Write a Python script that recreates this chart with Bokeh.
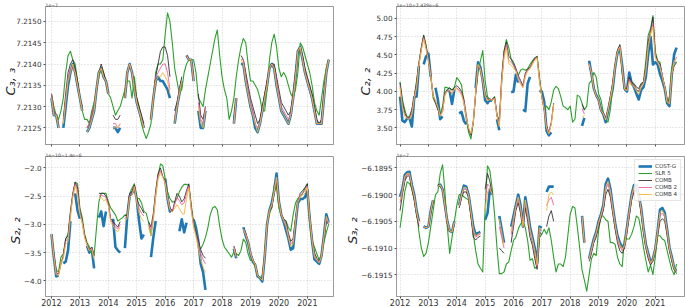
import numpy as np
from bokeh.plotting import figure
from bokeh.layouts import gridplot
from bokeh.models import (FixedTicker, Legend, LegendItem, Range1d,
                          CustomJSTickFormatter, CustomLabelingPolicy)
from bokeh.embed import file_html
from bokeh.resources import INLINE

N = None
months = list(range(118))
dates = [2012 + m / 12.0 for m in months]
year_ticks = list(range(2012, 2022))
series_names = ["COST-G", "SLR 5", "COMB", "COMB 2", "COMB 4"]

# ---------------- Panel 1: C3,3 (x1e-7) ----------------
c33_slr = [7.2133, 7.2130, 7.2128, 7.2127, 7.2129, 7.2132, 7.2138, 7.2142, 7.2143, 7.2141,
           7.2140, 7.2136, 7.2132, 7.2129, 7.2127, 7.2127, 7.2126, 7.2129, 7.2131, 7.2134,
           7.2137, 7.2139, 7.2138, 7.2136, 7.2133, 7.2132, 7.2130, 7.2128, 7.2129, 7.2130,
           7.2132, 7.2134, 7.2136, 7.2136, 7.2132, 7.2137, 7.2132, 7.2130, 7.2126, 7.2124,
           7.21225, 7.2124, 7.2126, 7.2132, 7.2138, 7.2140, 7.2140, 7.2141, 7.2147, 7.2152,
           7.2150, 7.2145, 7.2139, 7.2136, 7.2133, 7.2134, 7.2138, 7.2140, 7.2141, 7.2141,
           7.2141, 7.2138, 7.2132, 7.2131, 7.2130, 7.2134, 7.2137, 7.2140, 7.2143, 7.2146,
           7.2148, 7.2142, 7.2137, 7.2134, 7.2132, 7.2127, 7.2129, 7.2132, 7.2137, 7.2141,
           7.2144, 7.2146, 7.2145, 7.2140, 7.2136, 7.2136, 7.2135, 7.2134, 7.2132, 7.2129,
           7.2129, 7.2134, 7.2141, 7.2145, 7.2147, 7.2144, 7.2139, 7.2137, 7.2138, 7.2137,
           7.2135, 7.2133, 7.2132, 7.2134, 7.2138, 7.2145, 7.2144, 7.2142, 7.2140, 7.2138,
           7.2135, 7.2131, 7.2129, 7.2128, 7.2132, 7.2136, 7.2139, 7.2141]
c33_costg = [7.2132, 7.2128, 7.2128, 7.2125, N, 7.2125, 7.2130, 7.2135, 7.2138, 7.2140,
             7.2138, 7.2135, 7.2132, 7.2129, N, 7.2124, 7.2125, 7.2127, 7.2129, 7.2134,
             7.2138, 7.2139, 7.2137, 7.2136, 7.2133, N, 7.2125, 7.2125, 7.2124, 7.2125,
             N, 7.2132, 7.2138, 7.2140, 7.2138, 7.2134, 7.2131, 7.2129, 7.2127, 7.2125,
             N, N, 7.2127, 7.2132, 7.2136, 7.2137, 7.2136, 7.2136, 7.2135, 7.2134,
             7.2132, N, 7.2126, 7.2130, 7.2133, 7.2136, N, 7.2142, 7.2141, 7.2141,
             7.2136, N, 7.2129, 7.2125, 7.2125, 7.2129, N, N, N, N,
             N, N, N, N, N, N, N, 7.2126, 7.2132, N,
             7.2140, 7.2140, 7.2136, 7.2133, 7.2130, 7.2128, 7.2125, 7.2124, 7.2126, 7.2129,
             7.2132, 7.2135, 7.2139, 7.2140, 7.2139, 7.2135, 7.2132, 7.2129, 7.2128, 7.2127,
             7.2126, 7.2128, 7.2132, 7.2137, 7.2143, 7.2144, 7.2141, 7.2138, 7.2136, 7.2134,
             7.2132, 7.2129, 7.2126, 7.2126, 7.2126, 7.2132, 7.2138, 7.2141]
c33_comb = [7.2133, 7.2129, 7.2128, 7.2126, N, 7.2127, 7.2133, 7.2138, 7.2140, 7.2141,
            7.2139, 7.2136, 7.2132, 7.2130, N, 7.2125, 7.2126, 7.2128, 7.2130, 7.2134,
            7.2138, 7.2140, 7.2138, 7.2136, 7.2133, N, 7.2128, 7.2127, 7.2127, 7.2128,
            N, 7.2132, 7.2138, 7.2140, 7.2138, 7.2135, 7.2132, 7.2130, 7.2128, 7.2126,
            N, N, 7.2127, 7.2132, 7.2137, 7.2140, 7.2143, 7.2144, 7.2144, 7.2142,
            7.2137, N, 7.2129, 7.2131, 7.2134, 7.2137, N, 7.2142, 7.2141, 7.2141,
            7.2137, N, 7.2133, 7.2128, 7.2127, 7.2130, N, N, N, N,
            N, N, N, N, N, N, N, 7.2127, 7.2132, N,
            7.2142, 7.2141, 7.2138, 7.2135, 7.2132, 7.2130, 7.2128, 7.2126, 7.2127, 7.2130,
            7.2133, 7.2136, 7.2139, 7.2140, 7.2140, 7.2137, 7.2134, 7.2131, 7.2130, 7.2129,
            7.2128, 7.2129, 7.2133, 7.2138, 7.2143, 7.2144, 7.2142, 7.2139, 7.2137, 7.2135,
            7.2133, 7.2130, 7.2127, 7.2126, 7.2127, 7.2133, 7.2138, 7.2141]
c33_comb2 = [7.2133, 7.2129, 7.2128, 7.2126, N, 7.2126, 7.2132, 7.2137, 7.2139, 7.2139,
             7.2138, 7.2135, 7.2132, 7.2129, N, 7.2125, 7.2126, 7.2128, 7.2130, 7.2134,
             7.2138, 7.2139, 7.2137, 7.2136, 7.2133, N, 7.2126, 7.2126, 7.2125, 7.2126,
             N, 7.2132, 7.2138, 7.2140, 7.2138, 7.2135, 7.2131, 7.2129, 7.2127, 7.2125,
             N, N, 7.2127, 7.2132, 7.2137, 7.2138, 7.2139, 7.2140, 7.2140, 7.2138,
             7.2134, N, 7.2127, 7.2130, 7.2134, 7.2136, N, 7.2142, 7.2141, 7.2141,
             7.2136, N, 7.2131, 7.2127, 7.2126, 7.2130, N, N, N, N,
             N, N, N, N, N, N, N, 7.2126, 7.2132, N,
             7.2141, 7.2141, 7.2137, 7.2134, 7.2131, 7.2129, 7.2126, 7.2125, 7.2126, 7.2129,
             7.2132, 7.2135, 7.2139, 7.2140, 7.2139, 7.2136, 7.2133, 7.2130, 7.2129, 7.2128,
             7.2127, 7.2128, 7.2132, 7.2137, 7.2143, 7.2144, 7.2141, 7.2138, 7.2136, 7.2134,
             7.2132, 7.2129, 7.2126, 7.2126, 7.2126, 7.2132, 7.2138, 7.2141]
c33_comb4 = [7.2132, 7.2128, 7.2128, 7.2125, N, 7.2126, 7.2131, 7.2136, 7.2138, 7.2140,
             7.2138, 7.2135, 7.2132, 7.2129, N, 7.2124, 7.2125, 7.2127, 7.2129, 7.2134,
             7.2138, 7.2139, 7.2137, 7.2136, 7.2133, N, 7.2125, 7.2125, 7.2125, 7.2126,
             N, 7.2132, 7.2138, 7.2140, 7.2138, 7.2134, 7.2131, 7.2129, 7.2127, 7.2125,
             N, N, 7.2127, 7.2132, 7.2136, 7.2137, 7.2137, 7.2138, 7.2137, 7.2136,
             7.2133, N, 7.2126, 7.2130, 7.2133, 7.2136, N, 7.2142, 7.2141, 7.2141,
             7.2136, N, 7.2130, 7.2126, 7.2125, 7.2129, N, N, N, N,
             N, N, N, N, N, N, N, 7.2126, 7.2132, N,
             7.2141, 7.2140, 7.2136, 7.2133, 7.2130, 7.2128, 7.2126, 7.2124, 7.2126, 7.2129,
             7.2132, 7.2135, 7.2139, 7.2140, 7.2139, 7.2135, 7.2132, 7.2129, 7.2128, 7.2127,
             7.2126, 7.2128, 7.2132, 7.2137, 7.2143, 7.2144, 7.2141, 7.2138, 7.2136, 7.2134,
             7.2132, 7.2129, 7.2126, 7.2126, 7.2126, 7.2132, 7.2138, 7.2141]

# ---------------- Panel 2: C2,2 (x1e-10 + 2.439e-6) ----------------
c22_slr = [4.13, 3.89, 3.75, 3.64, 3.66, 3.75, 3.93, 4.15, 4.40, 4.60,
           4.77, 4.64, 4.44, 4.20, 3.91, 3.84, 3.75, 3.69, 3.80, 4.06,
           4.05, 4.04, 4.02, 4.06, 4.19, 4.15, 4.09, 3.86, 3.62, 3.44,
           3.35, 3.58, 3.97, 4.26, 4.42, 4.56, 4.15, 3.93, 3.89, 3.89,
           3.93, 3.66, 3.62, 4.11, 4.55, 4.71, 4.60, 4.44, 4.37, 4.29,
           4.22, 4.29, 4.31, 4.29, 4.31, 4.37, 4.42, 4.46, 4.48, 4.20,
           3.93, 3.75, 3.80, 3.75, 3.86, 4.02, 4.07, 4.04, 3.93, 3.80,
           3.78, 3.75, 3.80, 3.58, 3.62, 3.95, 3.93, 3.84, 3.75, 3.80,
           4.11, 4.15, 4.26, 4.20, 3.97, 3.89, 3.71, 3.62, 3.58, 3.75,
           4.06, 4.37, 4.51, 4.64, 4.24, 4.04, 4.04, 4.17, 4.11, 4.09,
           4.02, 4.00, 4.09, 4.13, 4.42, 4.77, 4.86, 5.04, 4.55, 4.42,
           4.40, 4.20, 4.06, 3.84, 3.93, 4.33, 4.40, 4.40]
c22_costg = [3.93, 3.60, 3.58, 3.63, 3.63, 3.52, 3.92, 3.93, 4.35, N,
             4.37, 4.48, 4.52, 4.20, N, 4.05, 3.89, 3.62, 3.66, N,
             4.02, 4.00, 3.83, 4.03, N, 3.70, 3.72, 3.60, 3.55, N,
             N, N, 4.05, 4.40, 4.33, 4.15, 3.88, 3.84, 3.89, 3.87,
             N, 3.62, 3.47, N, N, N, N, 3.99, 4.00, 4.23,
             4.12, N, 3.75, 3.73, 4.11, 4.20, N, N, N, 4.01,
             4.00, 3.86, 3.46, 3.40, 3.44, N, N, N, N, N,
             N, N, N, N, N, N, N, 3.53, 3.64, N,
             4.42, 4.24, 4.04, 3.95, 3.89, 3.75, 3.69, 3.58, 3.73, 3.89,
             4.04, 4.33, 4.53, 4.60, 4.35, 4.04, 4.00, 4.26, 4.11, 4.06,
             3.97, 3.89, 4.02, 4.06, 4.20, 4.51, 4.75, 4.37, 4.40, 4.37,
             4.24, 4.15, 4.04, 3.84, 3.80, 4.24, 4.51, 4.60]
c22_comb = [4.12, 3.85, 3.70, 3.65, 3.63, 3.75, 3.92, 4.12, 4.38, 4.60,
            4.77, 4.62, 4.45, 4.22, 3.95, 3.85, 3.76, 3.68, 3.74, 3.98,
            4.03, 4.05, 4.02, 4.05, 4.08, 4.05, 4.00, 3.90, 3.68, 3.48,
            3.40, 3.58, 3.97, 4.35, 4.30, 4.15, 3.97, 3.90, 3.89, 3.89,
            3.92, 3.70, 3.55, 4.20, 4.55, 4.68, 4.48, 4.45, 4.40, 4.32,
            4.22, 4.15, 4.08, 4.25, 4.31, 4.33, 4.40, 4.45, 4.48, 4.17,
            3.93, 3.75, 3.53, 3.44, 3.58, 3.84, N, N, N, N,
            N, N, N, N, N, N, N, 3.82, 3.75, N,
            4.33, 4.26, 4.04, 3.93, 3.89, 3.73, 3.71, 3.64, 3.75, 3.93,
            4.13, 4.35, 4.57, 4.64, 4.29, 4.02, 4.04, 4.20, 4.13, 4.11,
            4.06, 4.04, 4.11, 4.13, 4.33, 4.68, 4.82, 5.02, 4.51, 4.42,
            4.37, 4.22, 4.06, 3.89, 3.86, 4.24, 4.35, 4.40]
c22_comb2 = [4.08, 3.80, 3.68, 3.64, 3.63, 3.72, 3.92, 4.08, 4.37, 4.58,
             4.74, 4.60, 4.44, 4.22, 3.95, 3.87, 3.78, 3.68, 3.73, 3.96,
             4.01, 4.00, 3.98, 4.02, 4.05, 4.02, 3.97, 3.86, 3.66, 3.50,
             3.42, 3.58, 3.98, 4.36, 4.30, 4.14, 3.95, 3.88, 3.89, 3.89,
             3.91, 3.68, 3.53, 4.15, 4.50, 4.64, 4.43, 4.40, 4.36, 4.30,
             4.20, 4.12, 4.06, 4.22, 4.29, 4.32, 4.38, 4.44, 4.47, 4.15,
             3.93, 3.75, 3.51, 3.43, 3.56, 3.83, N, N, N, N,
             N, N, N, N, N, N, N, 3.77, 3.69, N,
             4.36, 4.25, 4.04, 3.94, 3.89, 3.74, 3.70, 3.62, 3.74, 3.91,
             4.10, 4.34, 4.55, 4.62, 4.31, 4.03, 4.02, 4.17, 4.10, 4.08,
             4.03, 4.00, 4.08, 4.11, 4.30, 4.64, 4.80, 4.93, 4.48, 4.41,
             4.35, 4.21, 4.07, 3.87, 3.84, 4.24, 4.40, 4.47]
c22_comb4 = [4.05, 3.78, 3.66, 3.63, 3.62, 3.68, 3.90, 4.05, 4.36, 4.56,
             4.72, 4.58, 4.42, 4.21, 3.94, 3.88, 3.79, 3.66, 3.72, 3.95,
             4.00, 4.02, 3.97, 4.03, 4.04, 4.00, 3.95, 3.84, 3.64, 3.50,
             3.43, 3.58, 3.99, 4.37, 4.31, 4.14, 3.94, 3.87, 3.89, 3.88,
             3.90, 3.67, 3.52, 4.12, 4.46, 4.60, 4.38, 4.36, 4.32, 4.28,
             4.16, 4.10, 4.05, 4.20, 4.28, 4.31, 4.37, 4.43, 4.46, 4.14,
             3.93, 3.76, 3.50, 3.42, 3.55, 3.82, N, N, N, N,
             N, N, N, N, N, N, N, 3.65, 3.67, N,
             4.38, 4.25, 4.04, 3.94, 3.89, 3.74, 3.70, 3.61, 3.74, 3.90,
             4.08, 4.34, 4.54, 4.61, 4.32, 4.03, 4.01, 4.14, 4.08, 4.07,
             4.01, 3.96, 4.06, 4.10, 4.27, 4.60, 4.78, 4.88, 4.46, 4.40,
             4.33, 4.20, 4.06, 3.86, 3.83, 4.24, 4.42, 4.45]

# ---------------- Panel 3: S2,2 (x1e-10 - 1.4e-6) ----------------
s22_slr = [-3.17, -3.52, -3.81, -3.84, -3.58, -3.52, -3.26, -3.17, -2.77, -2.48,
           -2.25, -2.28, -2.71, -2.88, -3.17, -3.32, -3.40, -3.52, -3.55, -3.06,
           -2.60, -2.45, -2.45, -2.45, -2.60, -2.71, -2.77, -2.83, -2.94, -2.91,
           -2.88, -2.83, -2.86, -2.45, -2.36, -2.28, -2.54, -2.54, -2.62, -2.77,
           -2.80, -2.97, -3.20, -2.88, -2.48, -2.13, -1.93, -1.96, -2.19, -2.42,
           -2.54, -2.60, -2.60, -2.54, -2.42, -2.34, -2.29, -2.29, -2.31, -2.65,
           -2.97, -3.14, -3.40, -3.43, -3.35, -3.23, -3.06, -2.83, -2.71, -2.68,
           -2.74, -3.03, -3.26, -3.40, -3.46, -3.52, -3.58, -3.49, -3.52, -3.55,
           -3.46, -3.26, -3.32, -3.52, -3.64, -3.64, -3.75, -3.90, -3.95, -3.90,
           -3.52, -3.00, -2.80, -2.71, -2.31, -2.34, -2.71, -2.83, -2.91, -2.94,
           -3.06, -3.12, -2.83, -2.62, -2.54, -2.51, -2.45, -2.36, -2.28, -3.00,
           -3.29, -3.40, -3.52, -3.64, -3.52, -3.32, -3.14, -3.00]
s22_costg = [-3.17, -3.58, -3.92, -3.91, N, -3.69, -3.66, -3.46, -2.94, N,
             -2.45, -2.75, -2.90, N, N, -3.38, -3.50, -3.43, -3.78, N,
             -2.88, -2.77, -3.03, -2.77, N, N, -2.90, -3.40, -3.46, -3.50,
             N, -3.42, -2.85, -2.50, -2.45, -2.35, -2.55, -2.95, -3.25, -3.18,
             N, N, -3.58, -3.23, -2.94, N, N, N, -2.19, -2.54,
             -2.77, -2.74, N, N, -3.12, -2.91, -3.14, -2.97, N, N,
             -2.91, -3.06, -3.30, -3.70, -3.85, -4.16, N, N, N, N,
             N, N, N, N, N, N, N, -3.43, -3.60, N,
             N, -3.05, -3.20, -3.32, -3.52, -3.66, -3.72, -3.92, -3.95, -4.01,
             -3.58, -3.00, -2.75, -2.62, -2.40, -2.10, -2.60, -2.83, -2.95, -3.10,
             -3.25, -3.45, -3.42, -3.00, -2.62, -2.55, -2.55, -2.52, -2.40, -2.90,
             -3.30, -3.62, -3.66, -3.70, -3.55, -3.20, -2.82, -2.97]
s22_comb = [-3.17, -3.55, -3.85, -3.88, -3.70, -3.55, -3.25, -3.20, -2.80, -2.45,
            -2.25, -2.35, -2.75, -2.95, -3.20, -3.35, -3.45, -3.40, -3.55, N,
            -2.45, -2.45, -2.45, -2.50, -2.62, -2.90, -2.95, -3.00, -3.05, -2.95,
            N, -2.85, -2.83, -2.45, -2.42, -2.30, -2.55, -2.65, -2.72, -2.80,
            N, -2.95, -3.05, -2.80, -2.40, -2.10, -2.00, -2.15, -2.22, -2.50,
            -2.70, -2.78, -2.60, -2.45, -2.50, -2.60, -2.55, -2.40, -2.28, -2.70,
            -3.00, -3.15, -3.30, -3.45, -3.55, -3.60, N, N, N, N,
            N, N, N, N, N, N, N, -3.38, -3.55, N,
            N, -3.10, -3.15, -3.30, -3.50, -3.62, -3.70, -3.90, -3.95, -3.97,
            -3.55, -3.00, -2.75, -2.70, -2.45, -2.25, -2.60, -2.82, -2.90, -2.95,
            -3.15, -3.30, -3.25, -2.90, -2.60, -2.45, -2.40, -2.35, -2.28, -2.85,
            -3.25, -3.50, -3.60, -3.65, -3.55, -3.25, -2.95, -3.00]
s22_comb2 = [-3.17, -3.56, -3.87, -3.89, -3.70, -3.57, -3.30, -3.25, -2.83, -2.48,
             -2.28, -2.40, -2.78, -2.97, -3.22, -3.36, -3.46, -3.42, -3.58, N,
             -2.50, -2.48, -2.50, -2.52, -2.65, -2.93, -2.98, -3.05, -3.08, -3.00,
             N, -2.90, -2.85, -2.48, -2.45, -2.32, -2.58, -2.72, -2.80, -2.85,
             N, -3.00, -3.10, -2.85, -2.45, -2.15, -2.05, -2.16, -2.25, -2.52,
             -2.72, -2.78, -2.65, -2.52, -2.58, -2.65, -2.62, -2.45, -2.32, -2.72,
             -3.02, -3.18, -3.35, -3.52, -3.62, -3.70, N, N, N, N,
             N, N, N, N, N, N, N, -3.40, -3.56, N,
             N, -3.10, -3.17, -3.30, -3.50, -3.63, -3.70, -3.90, -3.95, -3.98,
             -3.56, -3.00, -2.75, -2.67, -2.43, -2.20, -2.60, -2.82, -2.92, -3.00,
             -3.20, -3.35, -3.30, -2.92, -2.60, -2.48, -2.45, -2.40, -2.32, -2.87,
             -3.27, -3.55, -3.62, -3.67, -3.56, -3.23, -2.90, -2.98]
s22_comb4 = [-3.17, -3.57, -3.89, -3.90, -3.70, -3.60, -3.35, -3.30, -2.88, -2.52,
             -2.32, -2.48, -2.82, -2.98, -3.24, -3.37, -3.47, -3.43, -3.62, N,
             -2.55, -2.52, -2.58, -2.56, -2.68, -2.96, -3.02, -3.10, -3.13, -3.05,
             N, -2.95, -2.88, -2.52, -2.48, -2.34, -2.60, -2.80, -2.90, -2.95,
             N, -3.05, -3.20, -2.92, -2.50, -2.20, -2.08, -2.17, -2.27, -2.53,
             -2.74, -2.78, -2.72, -2.65, -2.72, -2.80, -2.82, -2.55, -2.35, -2.75,
             -3.05, -3.22, -3.42, -3.62, -3.75, -3.85, N, N, N, N,
             N, N, N, N, N, N, N, -3.42, -3.58, N,
             N, -3.08, -3.18, -3.31, -3.51, -3.64, -3.71, -3.91, -3.95, -3.99,
             -3.57, -3.00, -2.75, -2.65, -2.42, -2.16, -2.60, -2.83, -2.93, -3.04,
             -3.22, -3.40, -3.35, -2.95, -2.61, -2.50, -2.48, -2.45, -2.35, -2.88,
             -3.28, -3.58, -3.64, -3.68, -3.56, -3.22, -2.86, -2.97]

# ---------------- Panel 4: S3,2 (x1e-7) ----------------
s32_slr = [-6.19062, -6.19031, -6.18995, -6.18976, -6.18979, -6.18989, -6.19010, -6.19030, -6.19070, -6.19100,
           -6.19116, -6.19110, -6.19090, -6.19060, -6.19030, -6.19000, -6.18995, -6.18960, -6.18944, -6.18995,
           -6.19060, -6.19110, -6.19080, -6.19050, -6.19020, -6.19000, -6.19000, -6.19004, -6.19007, -6.19010,
           -6.19040, -6.19074, -6.19105, -6.19130, -6.19138, -6.19145, -6.19025, -6.18946, -6.18955, -6.18989,
           -6.19037, -6.19099, -6.19148, -6.19148, -6.19145, -6.19130, -6.19126, -6.19105, -6.19086, -6.19080,
           -6.19065, -6.19055, -6.19050, -6.19062, -6.19086, -6.19123, -6.19120, -6.19138, -6.19135, -6.19080,
           -6.19074, -6.19065, -6.19074, -6.19062, -6.19086, -6.19117, -6.19145, -6.19130, -6.19130, -6.19135,
           -6.19117, -6.19077, -6.19037, -6.19022, -6.19025, -6.19060, -6.19099, -6.19141, -6.19160, -6.19181,
           -6.19150, -6.19120, -6.19110, -6.19114, -6.19068, -6.19040, -6.19040, -6.19047, -6.19050, -6.19090,
           -6.19090, -6.19093, -6.19117, -6.19130, -6.19135, -6.19080, -6.19083, -6.19083, -6.19074, -6.19060,
           -6.19040, -6.19044, -6.19068, -6.19099, -6.19123, -6.19145, -6.19132, -6.19150, -6.19117, -6.19077,
           -6.19077, -6.19083, -6.19086, -6.19105, -6.19123, -6.19141, -6.19150, -6.19130]
s32_costg = [-6.19004, -6.18989, -6.18963, -6.18958, -6.18957, -6.18982, -6.19000, -6.19030, -6.19050, N,
             -6.19059, -6.19062, -6.19060, -6.19030, -6.19010, N, -6.18985, -6.18981, -6.18990, -6.19020,
             -6.19050, -6.19068, -6.19070, -6.19050, N, -6.19020, -6.19000, -6.18983, -6.18985, -6.19000,
             -6.19030, -6.19060, -6.19075, -6.19072, -6.19070, N, -6.19047, -6.19035, -6.18990, -6.19000,
             N, N, -6.19040, -6.19065, -6.19090, N, N, -6.19060, -6.19040, -6.19020,
             -6.19000, -6.19020, -6.19060, -6.19005, -6.19030, -6.19060, -6.19080, -6.19100, -6.19130, -6.19060,
             -6.19062, N, -6.18995, -6.18985, -6.18985, -6.18985, N, N, N, N,
             N, N, N, N, N, N, N, -6.19040, -6.19090, N,
             -6.19120, -6.19100, -6.19083, -6.19070, -6.19050, -6.19037, -6.19020, -6.18980, -6.18970, -6.18989,
             -6.19022, -6.19053, -6.19077, -6.19090, -6.19099, -6.19093, -6.19062, -6.19030, -6.19000, -6.18982,
             -6.18982, -6.19000, -6.19025, -6.19062, -6.19093, -6.19110, -6.19126, -6.19120, -6.19102, -6.19068,
             -6.19028, -6.19025, -6.19034, -6.19065, -6.19099, -6.19117, -6.19138, -6.19143]
s32_comb = [-6.19030, -6.19000, -6.18975, -6.18965, -6.18965, -6.18990, -6.19010, -6.19040, -6.19060, N,
            -6.19062, -6.19062, -6.19060, -6.19035, -6.19012, N, -6.18980, -6.18985, -6.18990, -6.19020,
            -6.19055, -6.19068, -6.19070, -6.19055, N, -6.19025, -6.19005, -6.18995, -6.18995, -6.19005,
            -6.19040, -6.19080, -6.19085, -6.19080, -6.19078, N, -6.18990, -6.18960, -6.18975, -6.19000,
            N, N, -6.19100, -6.19105, -6.19110, N, N, -6.19090, -6.19060, -6.19030,
            -6.19015, -6.19035, -6.19060, -6.19025, -6.19050, -6.19080, -6.19095, -6.19120, -6.19140, -6.19070,
            -6.19075, N, -6.19060, -6.19040, -6.19030, -6.19050, N, N, N, N,
            N, N, N, N, N, N, N, -6.19045, -6.19090, N,
            -6.19125, -6.19110, -6.19090, -6.19080, -6.19060, -6.19045, -6.19030, -6.19000, -6.18990, -6.19005,
            -6.19035, -6.19065, -6.19090, -6.19105, -6.19110, -6.19100, -6.19070, -6.19040, -6.19010, -6.18995,
            -6.18990, -6.19005, -6.19035, -6.19070, -6.19100, -6.19120, -6.19132, -6.19125, -6.19105, -6.19075,
            -6.19050, -6.19045, -6.19050, -6.19075, -6.19105, -6.19125, -6.19140, -6.19148]
s32_comb2 = [-6.19015, -6.18995, -6.18970, -6.18962, -6.18962, -6.18985, -6.19005, -6.19035, -6.19055, N,
             -6.19060, -6.19062, -6.19060, -6.19032, -6.19011, N, -6.18983, -6.18983, -6.18990, -6.19020,
             -6.19052, -6.19068, -6.19070, -6.19052, N, -6.19022, -6.19002, -6.18990, -6.18990, -6.19002,
             -6.19035, -6.19070, -6.19080, -6.19076, -6.19074, N, -6.19010, -6.18980, -6.18985, -6.19000,
             N, N, -6.19060, -6.19080, -6.19100, N, N, -6.19075, -6.19050, -6.19025,
             -6.19008, -6.19028, -6.19060, -6.19015, -6.19040, -6.19070, -6.19088, -6.19110, -6.19135, -6.19065,
             -6.19068, N, -6.19020, -6.19010, -6.19005, -6.19020, N, N, N, N,
             N, N, N, N, N, N, N, -6.19042, -6.19090, N,
             -6.19122, -6.19105, -6.19086, -6.19075, -6.19055, -6.19041, -6.19025, -6.18990, -6.18980, -6.18997,
             -6.19028, -6.19059, -6.19083, -6.19097, -6.19105, -6.19096, -6.19066, -6.19035, -6.19005, -6.18988,
             -6.18986, -6.19002, -6.19030, -6.19066, -6.19096, -6.19115, -6.19129, -6.19122, -6.19103, -6.19071,
             -6.19038, -6.19035, -6.19042, -6.19070, -6.19102, -6.19121, -6.19139, -6.19145]
s32_comb4 = [-6.19010, -6.18992, -6.18966, -6.18960, -6.18960, -6.18984, -6.19002, -6.19032, -6.19052, N,
             -6.19060, -6.19062, -6.19060, -6.19031, -6.19010, N, -6.18984, -6.18982, -6.18990, -6.19020,
             -6.19051, -6.19068, -6.19070, -6.19051, N, -6.19021, -6.19001, -6.18986, -6.18987, -6.19001,
             -6.19032, -6.19065, -6.19078, -6.19074, -6.19072, N, -6.19030, -6.18995, -6.18988, -6.19000,
             N, N, -6.19045, -6.19070, -6.19095, N, N, -6.19068, -6.19045, -6.19022,
             -6.19004, -6.19024, -6.19060, -6.19010, -6.19035, -6.19065, -6.19084, -6.19105, -6.19132, -6.19062,
             -6.19065, N, -6.19030, -6.19000, -6.18995, -6.19000, N, N, N, N,
             N, N, N, N, N, N, N, -6.19041, -6.19090, N,
             -6.19121, -6.19102, -6.19085, -6.19072, -6.19052, -6.19039, -6.19022, -6.18985, -6.18975, -6.18993,
             -6.19025, -6.19056, -6.19080, -6.19093, -6.19102, -6.19095, -6.19064, -6.19032, -6.19002, -6.18985,
             -6.18984, -6.19001, -6.19027, -6.19064, -6.19095, -6.19112, -6.19128, -6.19121, -6.19102, -6.19069,
             -6.19033, -6.19030, -6.19038, -6.19067, -6.19100, -6.19119, -6.19138, -6.19144]

# tick values / labels
c33_ticks = [7.2125, 7.2130, 7.2135, 7.2140, 7.2145, 7.2150]
c22_ticks = [3.50, 3.75, 4.00, 4.25, 4.50, 4.75, 5.00]
s22_ticks = [-4.0, -3.5, -3.0, -2.5, -2.0]
s32_ticks = [-6.1915, -6.1910, -6.1905, -6.1900, -6.1895]

COLORS = ["#1f77b4", "#2ca02c", "#333333", "#f0569c", "#f5b83d"]
WIDTHS = [2.6, 1.1, 1.0, 1.0, 1.0]
ALPHAS = [1.0, 1.0, 0.9, 0.85, 0.9]

FONT = "DejaVu Sans"
NB = "\u00a0"


def make_panel(xr, yr, width, height, bl, br, bt, bb, yticks, decimals, show_x,
               ylabel, label_standoff, offset_text):
    p = figure(width=width, height=height, x_range=Range1d(*xr), y_range=Range1d(*yr),
               output_backend="svg", toolbar_location=None,
               min_border_left=bl, min_border_right=br, min_border_top=bt, min_border_bottom=bb)
    p.outline_line_color = "#9a9a9a"
    p.outline_line_width = 1
    p.background_fill_color = "white"
    p.border_fill_color = "white"
    # scientific offset text drawn as the (tiny) title above the frame
    p.title.text = offset_text
    p.title.text_font = FONT
    p.title.text_font_size = "4.6px"
    p.title.text_font_style = "normal"
    p.title.text_color = "#444444"
    p.title.align = "left"
    p.title.standoff = 0
    p.title.offset = 0
    p.xaxis.ticker = FixedTicker(ticks=year_ticks)
    p.yaxis.ticker = FixedTicker(ticks=yticks)
    p.yaxis.formatter = CustomJSTickFormatter(
        code="return tick.toFixed(%d).replace('-', '\u2212');" % decimals)
    for ax in (p.xaxis[0], p.yaxis[0]):
        ax.axis_line_color = "#9a9a9a"
        ax.major_tick_line_color = "#555555"
        ax.major_tick_in = 0
        ax.minor_tick_line_color = None
        ax.major_label_text_font = FONT
        ax.major_label_text_font_size = "7.2px"
        ax.major_label_text_color = "#333333"
    p.yaxis.major_tick_out = 2
    p.yaxis.major_label_standoff = 2
    p.yaxis.axis_label = ylabel
    p.yaxis.axis_label_text_font = FONT
    p.yaxis.axis_label_text_font_style = "italic"
    p.yaxis.axis_label_text_font_size = "13px"
    p.yaxis.axis_label_text_color = "#222222"
    p.yaxis.axis_label_standoff = label_standoff
    p.xaxis.major_tick_out = 2
    p.xaxis.major_label_standoff = 0
    if show_x:
        p.xaxis.major_label_text_font_size = "8px"
    else:
        p.xaxis.major_label_text_font_size = "1px"
        p.xaxis.major_label_policy = CustomLabelingPolicy(
            code="for (const i of indices) { indices.unset(i) }\nreturn indices")
    p.grid.grid_line_color = "#c4c4c4"
    p.grid.grid_line_dash = "1 2"
    p.grid.grid_line_width = 0.8
    return p


def add_lines(p, data):
    rs = []
    for ys, c, w, a in zip(data, COLORS, WIDTHS, ALPHAS):
        y = np.array(ys, dtype=float)
        r = p.line(dates, y, line_color=c, line_width=w, line_alpha=a, line_join="round")
        rs.append(r)
    return rs


XR_L = (2011.79, 2021.92)
XR_R = (2011.875, 2022.03)
YR1 = (7.21211, 7.21535)
YR2 = (3.274, 5.164)
YR3 = (-4.277, -1.797)
YR4 = (-6.191909, -6.189285)

p1 = make_panel(XR_L, YR1, 342, 150, 42, 9, 4, 4, c33_ticks, 4, False,
                "C\u2083, \u2083" + NB * 3, -5, "1e\u22127")
p2 = make_panel(XR_R, YR2, 343, 150, 51, 1, 4, 4, c22_ticks, 2, False,
                "C\u2082, \u2082" + NB * 3, 0, "1e\u221210+2.439e\u22126")
p3 = make_panel(XR_L, YR3, 342, 158, 42, 9, 4, 11, s22_ticks, 1, True,
                "S\u2082, \u2082" + NB * 2, -2, "1e\u221210\u22121.4e\u22126")
p4 = make_panel(XR_R, YR4, 343, 158, 51, 1, 4, 11, s32_ticks, 4, True,
                "S\u2083, \u2082" + NB * 2, -2, "1e\u22127")

add_lines(p1, [c33_costg, c33_slr, c33_comb, c33_comb2, c33_comb4])
add_lines(p2, [c22_costg, c22_slr, c22_comb, c22_comb2, c22_comb4])
add_lines(p3, [s22_costg, s22_slr, s22_comb, s22_comb2, s22_comb4])
r4 = add_lines(p4, [s32_costg, s32_slr, s32_comb, s32_comb2, s32_comb4])

legend = Legend(items=[LegendItem(label=n, renderers=[r]) for n, r in zip(series_names, r4)],
                location="top_right")
legend.label_text_font = FONT
legend.label_text_font_size = "5.5px"
legend.label_text_color = "#333333"
legend.glyph_width = 14
legend.glyph_height = 6
legend.label_height = 6
legend.label_standoff = 3
legend.spacing = 1
legend.padding = 3
legend.margin = 3
legend.border_line_color = "#cccccc"
legend.background_fill_alpha = 0.85
p4.add_layout(legend)

grid = gridplot([[p1, p2], [p3, p4]], toolbar_location=None)
open("out.html", "w").write(file_html(grid, INLINE))
